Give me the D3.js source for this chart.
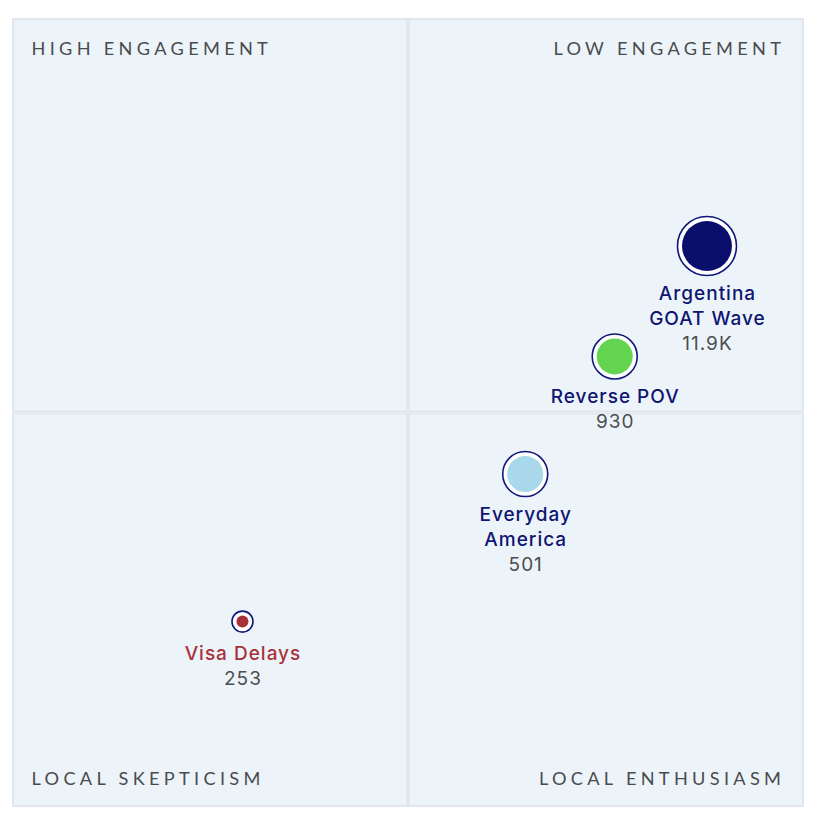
<!DOCTYPE html>
<html>
<head>
<meta charset="utf-8">
<script src="https://cdn.jsdelivr.net/npm/d3@7"></script>
<style>
  html, body { margin: 0; padding: 0; background: #ffffff; }
  svg { display: block; }
</style>
</head>
<body>
<svg id="chart" width="816" height="818"></svg>
<script>
// ---- data ----
const names = [["Argentina", "GOAT Wave"], ["Reverse POV"], ["Everyday", "America"], ["Visa Delays"]];
const valueLabels = ["11.9K", "930", "501", "253"];
const values = [11900, 930, 501, 253];
const xValues = [87.75, 76.1, 64.8, 29.1];   // horizontal position (0-100)
const yValues = [71.1, 57.1, 42.2, 23.5];    // vertical position (0-100)
const fillColors = ["#0a0f6e", "#62d44f", "#a8d8ea", "#a9323a"];
const labelColors = ["#0f1570", "#0f1570", "#0f1570", "#a9323a"];
const quadrantLabels = ["HIGH ENGAGEMENT", "LOW ENGAGEMENT", "LOCAL SKEPTICISM", "LOCAL ENTHUSIASM"];

(function () {
// ---- layout ----
const svg = d3.select("#chart");
const pLeft = 12, pRight = 804, pTop = 18, pBottom = 807;
const x = d3.scaleLinear().domain([0, 100]).range([pLeft, pRight]);
const y = d3.scaleLinear().domain([0, 100]).range([pBottom, pTop]);
const r = d3.scaleLinear().domain([253, 501, 930, 11900]).range([6, 18, 18, 25]);

const cx = x(50), cy = y(50);
const quads = [
  {x0: pLeft, x1: cx, y0: pTop, y1: cy},
  {x0: cx, x1: pRight, y0: pTop, y1: cy},
  {x0: pLeft, x1: cx, y0: cy, y1: pBottom},
  {x0: cx, x1: pRight, y0: cy, y1: pBottom}
];
const sw = 2;
svg.selectAll("rect.q").data(quads).join("rect")
  .attr("class", "q")
  .attr("x", d => d.x0 + sw / 2)
  .attr("y", d => d.y0 + sw / 2)
  .attr("width", d => d.x1 - d.x0 - sw)
  .attr("height", d => d.y1 - d.y0 - sw)
  .attr("fill", "#ecf4fa")
  .attr("stroke", "#e2e7ee")
  .attr("stroke-width", sw);

// quadrant labels
const qFont = "Lato, 'Open Sans', sans-serif";
const ls = 4.3;
const qPos = [
  {x: pLeft + 19.5, y: pTop + 36.5, anchor: "start"},
  {x: pRight - 23 + ls, y: pTop + 36.5, anchor: "end"},
  {x: pLeft + 19.5, y: pBottom - 22.5, anchor: "start"},
  {x: pRight - 23 + ls, y: pBottom - 22.5, anchor: "end"}
];
svg.selectAll("text.ql").data(quadrantLabels).join("text")
  .attr("class", "ql")
  .attr("x", (d, i) => qPos[i].x)
  .attr("y", (d, i) => qPos[i].y)
  .attr("text-anchor", (d, i) => qPos[i].anchor)
  .attr("font-family", qFont)
  .attr("font-size", 18.2)
  .attr("letter-spacing", ls + "px")
  .attr("fill", "#4a4b4d")
  .text(d => d);

// bubbles
const pts = values.map((v, i) => ({
  name: names[i], label: valueLabels[i], v,
  px: x(xValues[i]), py: y(yValues[i]), r: r(v),
  fill: fillColors[i], lc: labelColors[i]
}));

const g = svg.selectAll("g.pt").data(pts).join("g").attr("class", "pt");
g.append("circle")
  .attr("cx", d => d.px).attr("cy", d => d.py)
  .attr("r", d => d.r + 4.5)
  .attr("fill", "#ffffff")
  .attr("stroke", "#10177a")
  .attr("stroke-width", 1.6);
g.append("circle")
  .attr("cx", d => d.px).attr("cy", d => d.py)
  .attr("r", d => d.r)
  .attr("fill", d => d.fill);

const lFont = "Inter, 'Open Sans', sans-serif";
g.each(function(d) {
  const sel = d3.select(this);
  const base = d.py + Math.max(d.r, 9) + 29;
  d.name.forEach((line, k) => {
    sel.append("text")
      .attr("x", d.px + 0.5).attr("y", base + k * 25)
      .attr("text-anchor", "middle")
      .attr("font-family", lFont)
      .attr("font-weight", 500)
      .attr("font-size", 19)
      .attr("letter-spacing", "1px")
      .attr("fill", d.lc)
      .text(line);
  });
  sel.append("text")
    .attr("x", d.px + 0.5).attr("y", base + d.name.length * 25)
    .attr("text-anchor", "middle")
    .attr("font-family", lFont)
    .attr("font-size", 19)
    .attr("letter-spacing", "1px")
    .attr("fill", "#4d4d4f")
    .text(d.label);
});
})();
</script>
</body>
</html>
